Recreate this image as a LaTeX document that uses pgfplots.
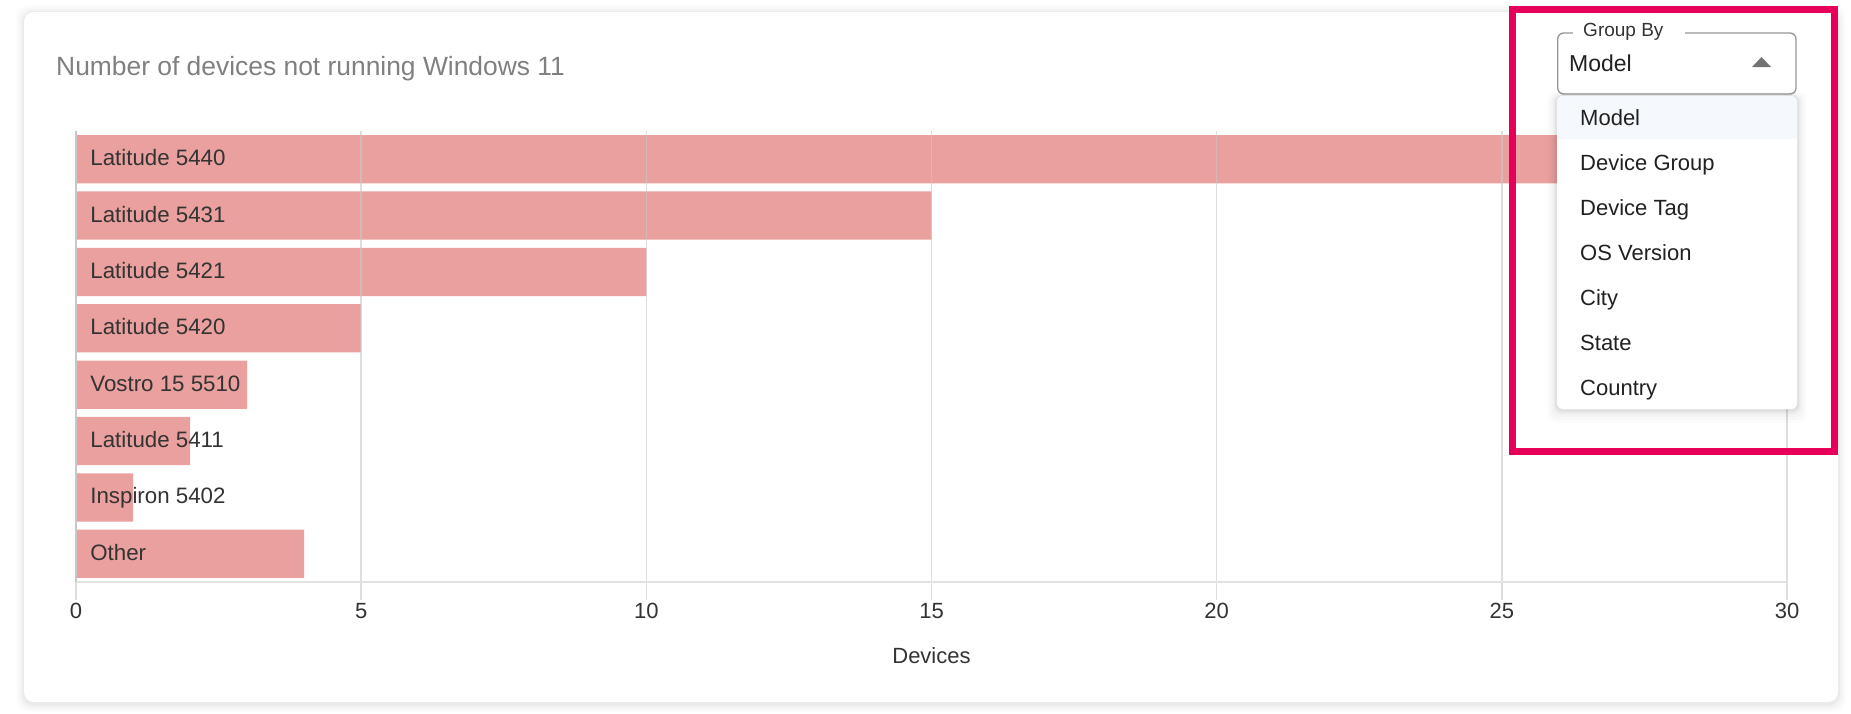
\documentclass[border=0pt]{standalone}
\usepackage{fontspec}
\setmainfont{Liberation Sans}
\usepackage{pgfplots}
\pgfplotsset{compat=1.18}
\definecolor{barc}{RGB}{233,160,158}
\definecolor{gridc}{RGB}{200,200,200}
\definecolor{axisc}{RGB}{226,226,226}
\definecolor{txt}{RGB}{51,51,51}
\definecolor{ttl}{RGB}{128,128,128}
\definecolor{pinkc}{RGB}{230,0,90}
\definecolor{selc}{RGB}{245,248,253}
\definecolor{brd}{RGB}{150,150,150}
\newcommand{\fs}[1]{\fontsize{#1}{#1}\selectfont}
\begin{document}
\begin{tikzpicture}[x=1pt,y=1pt]
\path[use as bounding box] (0,0) rectangle (1851,-713);
\fill[white] (0,0) rectangle (1851,-713);
\foreach \d/\o in {8/0.012,6/0.015,4/0.02,2/0.03} {\fill[black,opacity=\o,rounded corners=12pt] (24-\d,-12+\d-1) rectangle (1838+\d,-702-\d-2);}
\fill[white, rounded corners=10pt] (24,-12) rectangle (1838,-702);
\node[anchor=base west, text=ttl, font=\fs{26.4}, inner sep=0pt] at (56,-75.7) {Number of devices not running Windows 11};
\begin{axis}[
 at={(76pt,-582pt)}, anchor=south west, scale only axis, width=1711pt, height=451pt,
 xbar, bar width=48.3pt,
 xmin=0, xmax=30, ymin=0.5, ymax=8.5, y dir=reverse,
 axis on top, clip=false,
 axis x line*=bottom, axis y line*=left,
 axis line style={-},
 x axis line style={draw=axisc, line width=2.3pt},
 y axis line style={draw=gridc, line width=1.5pt},
 xtick={0,5,...,30}, xmajorgrids,
 grid style={draw=gridc, opacity=0.6, line width=1.5pt},
 tick align=outside, major tick length=18pt,
 x tick style={draw=gridc, opacity=0.6, line width=1.5pt},
 y tick style={draw=none},
 ytick={1,...,8},
 yticklabels={Latitude 5440,Latitude 5431,Latitude 5421,Latitude 5420,Vostro 15 5510,Latitude 5411,Inspiron 5402,Other},
 xticklabel style={font=\fs{22}, text=txt, anchor=center, inner sep=0pt, yshift=-11pt},
 yticklabel style={font=\fs{22.3}, text=txt, anchor=base west, inner sep=0pt, xshift=32.2pt, yshift=-6.5pt},
 xlabel={Devices},
 xlabel style={font=\fs{22}, text=txt, at={(axis description cs:0.5,0)}, anchor=center, yshift=-74pt},
 /pgf/number format/assume math mode=true,
]
\addplot[fill=barc, draw=none] coordinates {(28,1) (15,2) (10,3) (5,4) (3,5) (2,6) (1,7) (4,8)};
\end{axis}
% dropdown
\draw[brd, line width=1.3pt, rounded corners=6pt] (1557.7,-33) rectangle (1796,-94);
\fill[white] (1573,-29) rectangle (1685,-37);
\node[anchor=base west, text=txt, font=\fs{19}, inner sep=0pt] at (1583,-36) {Group By};
\node[anchor=base west, text=black!87, font=\fs{23}, inner sep=0pt] at (1569,-71) {Model};
\fill[black!55] (1752,-67) -- (1771,-67) -- (1761.5,-57) -- cycle;
\foreach \d/\o in {14/0.01,11/0.015,8/0.02,5/0.03,3/0.04} {\fill[black,opacity=\o,rounded corners=8pt] (1557-\d*0.7,-96+\d*0.3) rectangle (1797+\d*0.7,-409-\d);}
\fill[white, rounded corners=6pt] (1557,-96) rectangle (1797,-409);
\fill[selc, rounded corners=6pt] (1557,-96) rectangle (1797,-139);
\fill[selc] (1557,-115) rectangle (1797,-139);
\foreach \t/\b in {Model/125,Device Group/170,Device Tag/215,OS Version/260,City/305,State/350,Country/395} {\node[anchor=base west, text=black!87, font=\fs{22}, inner sep=0pt] at (1580,-\b) {\t};}
\draw[pinkc, line width=7pt] (1512.5,-9.5) rectangle (1834.5,-451.5);
\end{tikzpicture}
\end{document}
